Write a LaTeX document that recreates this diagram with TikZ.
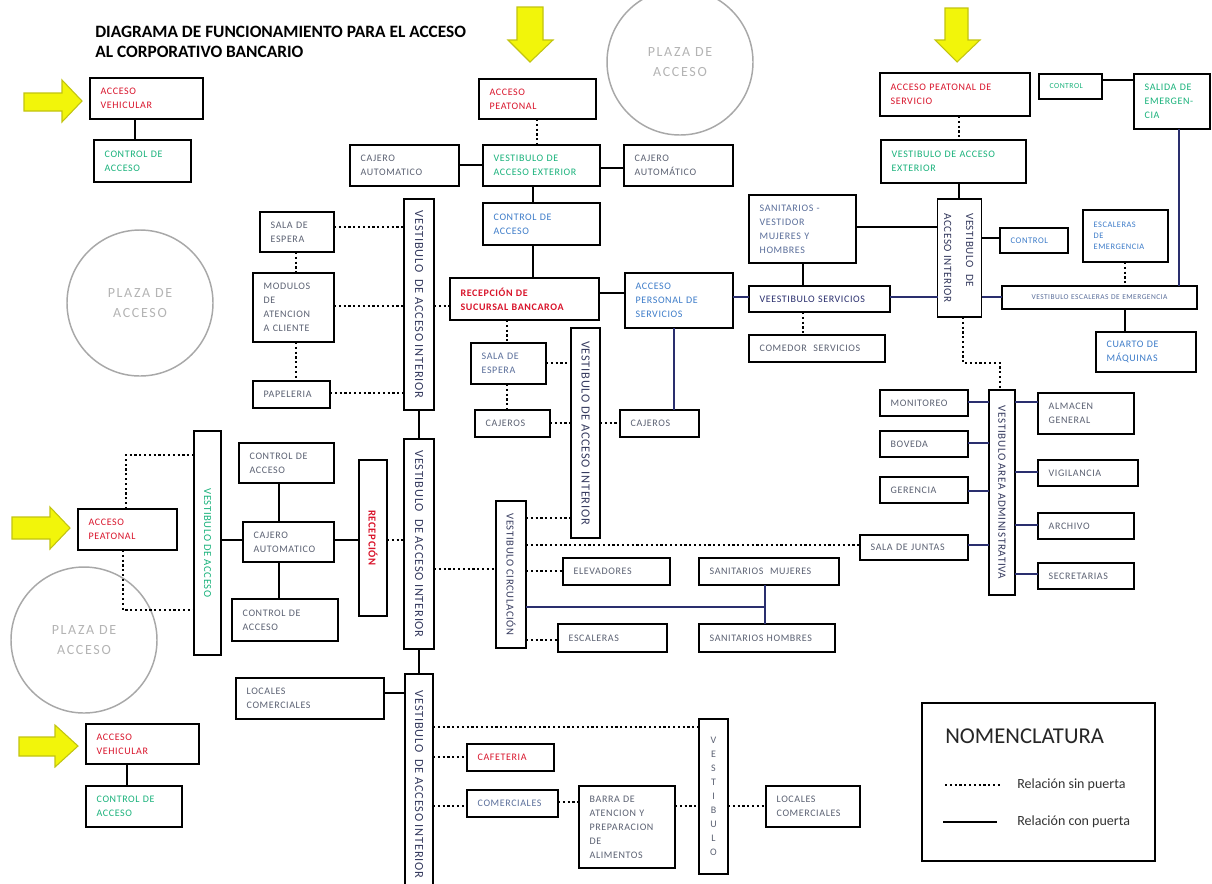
\documentclass[tikz,border=0pt]{standalone}
\usepackage{fontspec}
\usepackage{graphicx}
\setmainfont{Carlito}
\newfontfamily\boxfont[LetterSpace=6]{Carlito}
\newfontfamily\ringfont[LetterSpace=12]{Carlito}
\usetikzlibrary{calc}

\definecolor{tred}{HTML}{D9142B}
\definecolor{tgreen}{HTML}{19B27B}
\definecolor{tblue}{HTML}{3D7CC9}
\definecolor{tgray}{HTML}{5B6172}
\definecolor{tslate}{HTML}{5A6E9A}
\definecolor{tdark}{HTML}{353A5E}
\definecolor{wnavy}{HTML}{2A2F6E}
\definecolor{ringgray}{HTML}{A8A8A8}
\definecolor{ringtext}{HTML}{B4B4B4}
\definecolor{arrowfill}{HTML}{F2F50A}
\definecolor{arrowedge}{HTML}{C2C410}

\tikzset{
  box/.style={draw=black, line width=1.2pt, inner sep=0pt, outer sep=0pt, align=left,
    font=\boxfont\fontsize{7.5}{10.5}\selectfont, text=tgray},
  vbox/.style={draw=black, line width=1.2pt, inner sep=0pt, outer sep=0pt, align=center,
    font=\boxfont\fontsize{9.3}{12}\selectfont, text=tdark},
  wire/.style={line width=1.8pt, draw=black},
  nwire/.style={wire, draw=wnavy},
  dots/.style={line width=1.7pt, dash pattern=on 1.7pt off 1.9pt},
  ring/.style={circle, draw=ringgray, line width=1.1pt, inner sep=0pt, minimum size=109.5pt,
    text=ringtext, align=center, font=\ringfont\fontsize{10.5}{15}\selectfont},
  yarrow/.style={fill=arrowfill, draw=arrowedge, line width=0.8pt, line join=miter},
}

% rectangular box given by its corners (px), text left aligned
\newcommand{\rbx}[7][]{%
  \pgfmathsetmacro\bxw{(#5-#3)*0.75}%
  \pgfmathsetmacro\bxh{(#6-#4)*0.75}%
  \pgfmathsetmacro\bxt{(#5-#3)*0.75-16}%
  \node[box, minimum width=\bxw pt, minimum height=\bxh pt, text width=\bxt pt, #1]
    (#2) at ({(#3+#5)/2},{(#4+#6)/2}) {#7};}
% tall box with text turned to run downwards
\newcommand{\vbx}[7][]{%
  \pgfmathsetmacro\bxw{(#5-#3)*0.75}%
  \pgfmathsetmacro\bxh{(#6-#4)*0.75}%
  \node[vbox, minimum width=\bxw pt, minimum height=\bxh pt, #1]
    (#2) at ({(#3+#5)/2},{(#4+#6)/2}) {\rotatebox{-90}{#7}};}

\begin{document}
\begin{tikzpicture}[x=0.75pt, y=-0.75pt]
\fill[white] (0,0) rectangle (1212,883);
\useasboundingbox (0,0) rectangle (1212,883);

% access plazas
\node[ring] (pz1) at (680,62) {PLAZA DE\\ACCESO};
\node[ring] (pz2) at (140,303) {PLAZA DE\\ACCESO};
\node[ring] (pz3) at (84,640) {PLAZA DE\\ACCESO};

% title
\node[anchor=base west, inner sep=0pt, font=\bfseries\fontsize{13}{15}\selectfont] (title1) at (95,37) {DIAGRAMA DE FUNCIONAMIENTO PARA EL ACCESO};
\node[anchor=base west, inner sep=0pt, font=\bfseries\fontsize{13}{15}\selectfont] (title2) at (95,57) {AL CORPORATIVO BANCARIO};

% ---- boxes: left column
\rbx[text=tred]{av1}{90}{78}{203}{119}{ACCESO\\VEHICULAR}
\rbx[text=tgreen]{ca1}{94}{140}{191}{182}{CONTROL DE\\ACCESO}
\rbx[text=tred]{ap2}{78}{509}{177}{550}{ACCESO\\PEATONAL}
\rbx[text=tred]{av2}{86}{724}{199}{764}{ACCESO\\VEHICULAR}
\rbx[text=tgreen]{ca3}{86}{786}{182}{827}{CONTROL DE\\ACCESO}

% ---- boxes: bank branch
\rbx[text=tred]{ap1}{479}{79}{596}{119}{ACCESO\\PEATONAL}
\rbx[text=tgreen]{vae1}{483}{145}{600}{186}{VESTIBULO DE\\ACCESO EXTERIOR}
\rbx{caj1}{350}{145}{459}{186}{CAJERO\\AUTOMATICO}
\rbx{caj2}{624}{145}{733}{186}{CAJERO\\AUTOMÁTICO}
\rbx[text=tblue]{ca2}{483}{203}{600}{245}{CONTROL DE\\ACCESO}
\rbx[text=tred, font=\boxfont\bfseries\fontsize{7.5}{10.5}\selectfont]{rec}{450}{278}{599}{320}{RECEPCIÓN DE\\SUCURSAL BANCAROA}
\rbx[text=tblue]{aps}{625}{273}{733}{328}{ACCESO\\PERSONAL DE\\SERVICIOS}
\rbx{cjr}{620}{410}{699}{437}{CAJEROS}
\rbx[text=tslate]{se2}{471}{343}{546}{384}{SALA DE\\ESPERA}
\rbx{cjl}{475}{410}{550}{437}{CAJEROS}
\rbx{se1}{260}{212}{334}{252}{SALA DE\\ESPERA}
\rbx{mod}{253}{273}{334}{342}{MODULOS\\DE\\ATENCION\\A CLIENTE}
\rbx{pap}{253}{381}{330}{408}{PAPELERIA}
\vbx{vtop}{404}{199}{434}{410}{VESTIBULO\ \ DE ACCESO INTERIOR}
\vbx{vmid}{571}{328}{600}{538}{VESTIBULO DE ACCESO INTERIOR}

% ---- boxes: central hall
\vbx{vcen}{404}{439}{434}{649}{VESTIBULO\ \ DE ACCESO INTERIOR}
\vbx[text=tred, font=\boxfont\bfseries\fontsize{8}{10}\selectfont]{recv}{359}{460}{387}{616}{RECEPCIÓN}
\vbx[text=tgreen, font=\boxfont\fontsize{8}{10}\selectfont]{vacc}{194}{431}{221}{655}{VESTIBULO DE ACCESO}
\rbx{cau}{239}{443}{334}{483}{CONTROL DE\\ACCESO}
\rbx{cajl}{243}{522}{334}{562}{CAJERO\\AUTOMATICO}
\rbx{cal}{232}{599}{338}{641}{CONTROL DE\\ACCESO}
\vbx[font=\boxfont\fontsize{8}{10}\selectfont]{circ}{496}{501}{526}{648}{VESTIBULO CIRCULACIÓN}
\rbx{elev}{563}{558}{670}{585}{ELEVADORES}
\rbx{sm}{699}{558}{839}{585}{SANITARIOS\ \ MUJERES}
\rbx{esc}{558}{624}{667}{652}{ESCALERAS}
\rbx{sh}{699}{624}{835}{652}{SANITARIOS HOMBRES}

% ---- boxes: commercial wing
\vbx{vbot}{405}{674}{433}{895}{VESTIBULO\ \ DE ACCESO INTERIOR}
\rbx{lc1}{236}{678}{384}{719}{LOCALES\\COMERCIALES}
\rbx[text=tred]{caf}{467}{744}{554}{771}{CAFETERIA}
\rbx[text=tslate]{com}{467}{790}{558}{817}{COMERCIALES}
\rbx{bar}{579}{786}{675}{868}{BARRA DE\\ATENCION Y\\PREPARACION\\DE\\ALIMENTOS}
\node[vbox, font=\boxfont\fontsize{7.5}{10.5}\selectfont, text=tgray,
  minimum width=21.75pt, minimum height=116.25pt] (vst) at (713.5,796.5) {V\\E\\S\\T\\I\\B\\U\\L\\O};
\rbx{lc2}{766}{786}{860}{827}{LOCALES\\COMERCIALES}

% ---- boxes: service wing
\rbx[text=tred]{aps2}{880}{73}{1030}{116}{ACCESO PEATONAL DE\\SERVICIO}
\rbx[text=tgreen]{vae2}{881}{140}{1026}{183}{VESTIBULO DE ACCESO\\EXTERIOR}
\vbx[font=\boxfont\fontsize{8.3}{16.5}\selectfont]{vr}{938}{199}{981}{317}{\begin{tabular}{@{}l@{}}VESTIBULO\ \ DE\\ACCESO INTERIOR\end{tabular}}
\rbx[text=tgreen, font=\boxfont\fontsize{5.8}{8}\selectfont]{ctl1}{1039}{74}{1102}{99}{CONTROL}
\rbx[text=tgreen]{sal}{1134}{74}{1210}{129}{SALIDA DE\\EMERGEN-\\CIA}
\rbx[text=tblue, font=\boxfont\fontsize{6.5}{8}\selectfont]{ctl2}{1000}{228}{1068}{253}{CONTROL}
\rbx[text=tblue, font=\boxfont\fontsize{6.3}{8.3}\selectfont]{esce}{1083}{210}{1168}{262}{ESCALERAS\\DE\\EMERGENCIA}
\rbx[text=tslate, align=center, font=\boxfont\fontsize{5.6}{7}\selectfont]{vesc}{1002}{286}{1197}{309}{VESTIBULO ESCALERAS DE EMERGENCIA}
\rbx[text=tblue]{cmq}{1096}{332}{1196}{372}{CUARTO DE\\MÁQUINAS}
\rbx[text=tslate]{san}{749}{195}{856}{263}{SANITARIOS -\\VESTIDOR\\MUJERES Y\\HOMBRES}
\rbx[text=wnavy]{vser}{749}{286}{890}{312}{VEESTIBULO SERVICIOS}
\rbx{cmd}{749}{335}{885}{362}{COMEDOR\ \ SERVICIOS}

% ---- boxes: administration
\vbx[font=\boxfont\fontsize{8.3}{10}\selectfont]{vadm}{989}{390}{1015}{595}{VESTIBULO AREA ADMINISTRATIVA}
\rbx{mon}{880}{390}{968}{416}{MONITOREO}
\rbx{bov}{880}{431}{968}{457}{BOVEDA}
\rbx{ger}{880}{477}{968}{503}{GERENCIA}
\rbx{sj}{860}{535}{968}{560}{SALA DE JUNTAS}
\rbx{alm}{1038}{393}{1134}{434}{ALMACEN\\GENERAL}
\rbx{vig}{1038}{460}{1138}{486}{VIGILANCIA}
\rbx{arc}{1038}{513}{1134}{539}{ARCHIVO}
\rbx{sec}{1038}{563}{1134}{589}{SECRETARIAS}

% ---- connections with door
\draw[wire] (av1.south -| 135,0) -- (ca1.north -| 135,0);
\draw[wire] (av2.south -| 127,0) -- (ca3.north -| 127,0);
\draw[wire] (caj1.east |- 0,165) -- (vae1.west |- 0,165);
\draw[wire] (vae1.east |- 0,168) -- (caj2.west |- 0,168);
\draw[wire] (vae1.south -| 533,0) -- (ca2.north -| 533,0);
\draw[wire] (ca2.south -| 533,0) -- (rec.north -| 533,0);
\draw[wire] (rec.east |- 0,293) -- (aps.west |- 0,293);
\draw[nwire] (aps.south -| 674,0) -- (cjr.north -| 674,0);
\draw[nwire] (aps.east |- 0,297) -- (vser.west |- 0,297);
\draw[wire] (san.south -| 803,0) -- (vser.north -| 803,0);
\draw[wire] (san.east |- 0,227) -- (vr.west |- 0,227);
\draw[nwire] (vser.east |- 0,297) -- (vr.west |- 0,297);
\draw[wire] (vae2.south -| 959,0) -- (vr.north -| 959,0);
\draw[wire] (vr.east |- 0,238) -- (ctl2.west |- 0,238);
\draw[nwire] (vr.east |- 0,297) -- (vesc.west |- 0,297);
\draw[wire] (ctl1.east |- 0,80) -- (sal.west |- 0,80);
\draw[nwire] (sal.south -| 1179,0) -- (vesc.north -| 1179,0);
\draw[wire] (vesc.south -| 1125,0) -- (cmq.north -| 1125,0);
\draw[wire] (vtop.south) -- (vcen.north);
\draw[wire] (vcen.south) -- (vbot.north);
\draw[wire] (cau.south -| 279,0) -- (cajl.north -| 279,0);
\draw[wire] (cajl.south -| 279,0) -- (cal.north -| 279,0);
\draw[wire] (vacc.east |- 0,540) -- (cajl.west |- 0,540);
\draw[wire] (cajl.east |- 0,540) -- (recv.west |- 0,540);
\draw[wire] (lc1.east |- 0,693) -- (vbot.west |- 0,693);
\draw[nwire] (circ.east |- 0,607) -| (sm.south -| 765,0);
\draw[nwire] (sm.south -| 765,0) -- (sh.north -| 765,0);
\draw[nwire] (mon.east |- 0,402) -- (vadm.west |- 0,402);
\draw[nwire] (bov.east |- 0,443) -- (vadm.west |- 0,443);
\draw[nwire] (ger.east |- 0,491) -- (vadm.west |- 0,491);
\draw[nwire] (sj.east |- 0,545) -- (vadm.west |- 0,545);
\draw[nwire] (vadm.east |- 0,402) -- (alm.west |- 0,402);
\draw[nwire] (vadm.east |- 0,472) -- (vig.west |- 0,472);
\draw[nwire] (vadm.east |- 0,525) -- (arc.west |- 0,525);
\draw[nwire] (vadm.east |- 0,574) -- (sec.west |- 0,574);

% ---- connections without door
\draw[dots] (ap1.south -| 537,0) -- (vae1.north -| 537,0);
\draw[dots] (rec.south -| 507,0) -- (se2.north -| 507,0);
\draw[dots] (se2.east |- 0,363) -- (vmid.west |- 0,363);
\draw[dots] (se2.south -| 507,0) -- (cjl.north -| 507,0);
\draw[dots] (cjl.east |- 0,423) -- (vmid.west |- 0,423);
\draw[dots] (vmid.east |- 0,423) -- (cjr.west |- 0,423);
\draw[dots] (se1.east |- 0,227) -- (vtop.west |- 0,227);
\draw[dots] (se1.south -| 296,0) -- (mod.north -| 296,0);
\draw[dots] (mod.east |- 0,306) -- (vtop.west |- 0,306);
\draw[dots] (vtop.east |- 0,306) -- (rec.west |- 0,306);
\draw[dots] (mod.south -| 296,0) -- (pap.north -| 296,0);
\draw[dots] (pap.east |- 0,393) -- (vtop.west |- 0,393);
\draw[dots] (recv.east |- 0,540) -- (vcen.west |- 0,540);
\draw[dots] (ap2.north -| 126,0) |- (vacc.west |- 0,455);
\draw[dots] (ap2.south -| 123,0) |- (vacc.west |- 0,610);
\draw[dots] (circ.east |- 0,518) -- (vmid.west |- 0,518);
\draw[dots] (vcen.east |- 0,569) -- (circ.west |- 0,569);
\draw[dots] (circ.east |- 0,545) -- (sj.west |- 0,545);
\draw[dots] (circ.east |- 0,571) -- (elev.west |- 0,571);
\draw[dots] (circ.east |- 0,640) -- (esc.west |- 0,640);
\draw[dots] (vbot.east |- 0,727) -- (vst.west |- 0,727);
\draw[dots] (vbot.east |- 0,757) -- (caf.west |- 0,757);
\draw[dots] (vbot.east |- 0,806) -- (com.west |- 0,806);
\draw[dots] (com.east |- 0,802) -- (bar.west |- 0,802);
\draw[dots] (bar.east |- 0,806) -- (vst.west |- 0,806);
\draw[dots] (vst.east |- 0,806) -- (lc2.west |- 0,806);
\draw[dots] (aps2.south -| 959,0) -- (vae2.north -| 959,0);
\draw[dots] (esce.south -| 1125,0) -- (vesc.north -| 1125,0);
\draw[dots] (vser.south -| 803,0) -- (cmd.north -| 803,0);
\draw[dots] (vr.south -| 963,0) |- (1000,363) -- (vadm.north -| 1000,0);

% ---- entrance arrows
\filldraw[yarrow] (24,93) -- (62,93) -- (62,80) -- (82,101) -- (62,122) -- (62,111) -- (24,111) -- cycle;
\filldraw[yarrow] (517,7) -- (543,7) -- (543,40) -- (553,40) -- (530,62) -- (508,40) -- (517,40) -- cycle;
\filldraw[yarrow] (945,8) -- (968,8) -- (968,40) -- (980,40) -- (957,62) -- (935,40) -- (945,40) -- cycle;
\filldraw[yarrow] (12,517) -- (50,517) -- (50,507) -- (70,528) -- (50,549) -- (50,539) -- (12,539) -- cycle;
\filldraw[yarrow] (19,737) -- (55,737) -- (55,725) -- (78,746) -- (55,767) -- (55,756) -- (19,756) -- cycle;

% ---- legend
\rbx{nom}{922}{703}{1155}{861}{}
\node[anchor=base west, inner sep=0pt, font=\fontsize{17}{19}\selectfont, text=black!85] (nomt) at (945,743) {NOMENCLATURA};
\coordinate (ld1) at (945,785);
\coordinate (ld2) at (1000,785);
\coordinate (lw1) at (943,822);
\coordinate (lw2) at (997,822);
\draw[dots] (ld1) -- (ld2);
\draw[wire] (lw1) -- (lw2);
\node[anchor=west, inner sep=0pt, font=\fontsize{10.5}{12}\selectfont, text=black!80] (lg1) at (1017,785) {Relación sin puerta};
\node[anchor=west, inner sep=0pt, font=\fontsize{10.5}{12}\selectfont, text=black!80] (lg2) at (1017,822) {Relación con puerta};
\end{tikzpicture}
\end{document}
